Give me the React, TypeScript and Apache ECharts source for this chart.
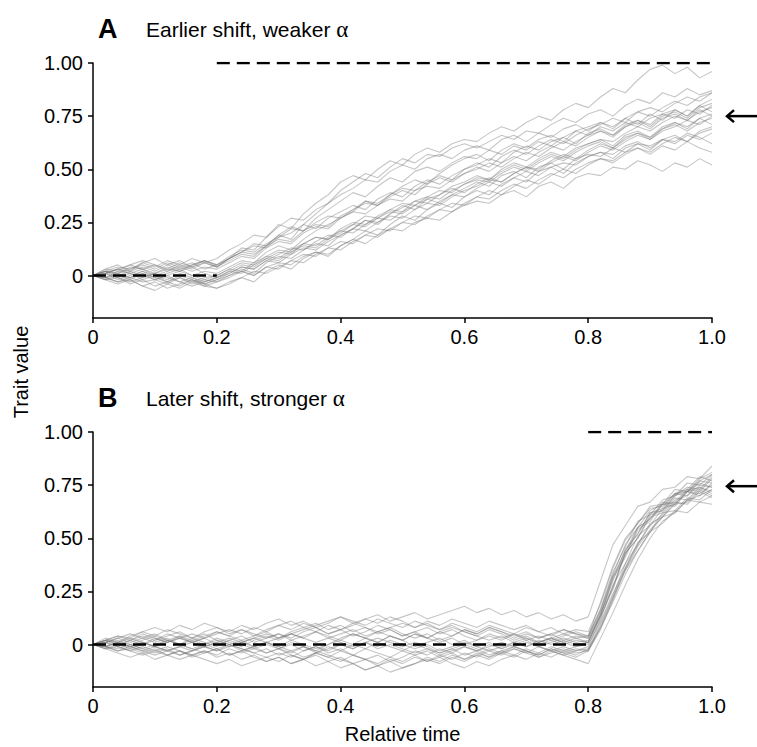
import React, { useEffect, useRef } from "react";
import * as echarts from "echarts";

// ---- data (values in hundredths of trait units, one point every 0.02 of relative time) ----
const TIME_STEP = 0.02;
const xTicks = [0, 0.2, 0.4, 0.6, 0.8, 1.0];
const yTicks = [0, 0.25, 0.5, 0.75, 1.0];
const arrowValues = [0.75, 0.745];
const optimumA = { before: [0, 0.2], after: [0.2, 1.0], theta0: 0, theta1: 1 };
const optimumB = { before: [0, 0.8], after: [0.8, 1.0], theta0: 0, theta1: 1 };
const panelTitles = ["Earlier shift, weaker ", "Later shift, stronger "];
const panelLetters = ["A", "B"];

const a01 = [0,2,1,4,3,5,2,4,6,3,5, 8,13,12,18,24,22,29,34,38,44, 47,45,50,54,52,57,60,58,62,64, 63,67,70,68,72,75,73,78,81,79, 84,88,86,92,97,99,95,98,93,96];
const a02 = [0,-1,2,1,3,0,2,5,3,6,4, 7,10,9,14,19,17,24,29,34,40, 44,48,46,51,55,53,57,56,60,62, 60,63,66,64,68,67,71,74,72,76, 78,75,80,83,81,86,84,88,85,87];
const a03 = [0,1,-2,0,2,-1,1,3,0,2,1, 4,7,6,11,14,12,17,21,24,27, 30,35,33,38,42,45,43,48,52,55, 57,54,59,62,60,64,66,63,68,70, 72,69,74,77,75,79,82,80,84,86];
const a04 = [0,-2,-1,-4,-2,-5,-3,-1,-4,-2,-3, 0,3,1,6,9,8,12,15,14,19, 22,26,24,29,33,31,36,38,42,44, 47,45,50,53,51,55,58,56,60,62, 64,61,66,68,65,70,72,69,74,76];
const a05 = [0,2,0,-2,1,-1,-3,0,-2,-4,-2, 0,2,0,4,6,5,9,11,10,14, 17,15,19,22,21,25,27,26,30,33, 35,34,38,40,37,42,44,41,46,48, 47,51,50,54,52,49,53,51,55,52];
const a06 = [0,3,5,2,6,4,7,5,8,6,4, 8,11,14,13,18,20,24,22,27,30, 33,31,36,39,37,42,45,43,47,50, 52,55,53,58,61,59,63,65,62,67, 69,66,71,73,70,75,77,74,79,81];
const a07 = [0,-1,-3,-2,-5,-7,-4,-6,-3,-5,-6, -4,-1,-3,2,5,3,8,11,9,14, 17,21,19,24,28,26,31,34,32,37, 40,38,43,46,44,49,51,48,53,56, 58,55,60,62,59,64,66,63,68,70];
const a08 = [0,2,4,3,6,8,5,7,4,6,8, 12,15,19,18,23,27,26,31,34,38, 41,45,44,49,52,50,55,57,55,59, 61,59,64,66,63,67,65,69,71,68, 72,70,74,71,76,73,78,75,80,77];
const a09 = [0,1,3,1,-1,1,3,2,4,1,-1, 2,5,4,8,11,10,15,18,17,22, 25,24,28,31,30,35,37,36,40,43, 45,44,48,51,49,53,56,54,58,61, 63,60,65,67,64,69,71,68,72,74];
const a10 = [0,-2,0,-1,1,-2,0,-3,-1,-4,-2, 1,4,3,7,10,13,12,16,19,18, 22,26,25,29,32,35,34,38,41,39, 43,46,44,48,51,50,54,57,55,59, 62,60,64,67,65,69,72,70,74,71];
const a11 = [0,1,-1,-3,-1,1,-1,-3,-5,-3,-1, 2,1,5,8,7,11,14,13,17,20, 24,23,27,30,29,33,36,34,38,41, 44,42,47,49,46,51,53,50,55,57, 56,60,58,62,61,64,62,66,64,67];
const a12 = [0,2,1,3,5,3,6,4,2,4,3, 6,9,8,13,16,15,20,23,22,27, 30,29,33,36,35,40,42,41,45,48, 50,53,51,55,58,56,60,63,61,65, 68,66,70,73,71,76,78,75,80,83];
const a13 = [0,-1,1,-1,-3,-2,-4,-1,-3,-1,0, 3,2,6,9,8,12,15,14,18,21, 20,24,27,26,30,33,31,35,38,37, 41,44,42,46,49,47,51,53,52,56, 58,57,61,63,60,64,63,67,65,62];
const a14 = [0,3,2,5,7,5,3,6,4,7,5, 9,12,11,15,18,22,21,25,28,27, 31,34,33,37,40,38,43,46,44,48, 51,49,53,56,54,58,61,59,63,66, 68,65,70,72,69,74,76,73,78,75];
const a15 = [0,-2,-4,-2,-5,-3,-6,-4,-2,-5,-3, -1,2,0,4,3,7,10,9,13,16, 15,19,22,21,25,28,27,31,34,33, 37,40,38,42,45,43,47,50,48,52, 55,53,57,60,58,62,65,63,67,69];
const a16 = [0,1,3,5,3,1,4,2,5,7,5, 8,11,10,14,17,16,21,24,23,28, 31,35,34,38,41,40,44,47,45,50, 53,51,56,59,57,61,64,62,66,69, 71,74,72,77,79,77,81,84,82,86];
const a17 = [0,-1,-3,-1,2,0,-2,1,-1,-3,-1, 1,4,3,7,6,10,13,12,16,19, 22,21,25,28,27,31,34,33,37,40, 42,45,44,48,51,49,53,56,54,58, 61,59,63,66,64,68,70,73,71,75];
const a18 = [0,2,-1,1,-2,0,-3,-5,-2,-4,-6, -3,-1,2,1,4,7,6,10,13,12, 16,19,18,22,25,24,28,31,30,34, 37,36,40,43,41,45,48,46,50,53, 55,54,58,60,57,61,59,63,60,58];
const a19 = [0,1,3,2,4,2,5,3,5,7,4, 8,11,15,14,19,23,21,27,31,35, 39,37,42,46,44,49,51,49,53,56, 55,59,57,61,59,63,61,65,68,66, 70,68,72,70,74,76,74,78,76,80];
const a20 = [0,-1,0,2,0,-2,0,2,0,-2,0, 3,6,5,9,12,11,15,18,17,21, 24,28,27,31,34,33,37,40,39,43, 46,45,49,52,50,54,57,55,59,62, 64,63,67,70,68,72,75,73,77,79];

const b01 = [0,2,4,3,6,4,7,5,3,6,8,6,9,7,10,12,9,11,8,10,13,11,9,12,10,8,11,9,7,10,8,6,9,7,5,8,6,4,7,5,3, 16,33,47,55,63,66,71,72,77,76];
const b02 = [0,-1,-3,-2,-4,-2,-5,-3,-6,-4,-2,-5,-3,-1,-4,-2,-5,-7,-4,-6,-8,-5,-7,-9,-6,-8,-5,-3,-6,-4,-7,-5,-2,-4,-1,-3,-5,-2,-4,-6,-3, 8,22,36,47,56,61,68,70,75,74];
const b03 = [0,1,-1,2,0,3,1,4,2,0,3,1,-1,2,4,2,5,3,6,4,2,5,3,1,4,2,-1,1,3,0,2,-1,1,-2,0,2,-1,1,3,1,2, 14,31,41,54,58,66,67,73,72,78];
const b04 = [0,-2,0,-1,1,-1,2,0,-2,-4,-2,-5,-3,-6,-8,-6,-9,-7,-10,-8,-11,-9,-12,-10,-7,-9,-6,-8,-5,-7,-4,-6,-3,-5,-2,-4,-6,-3,-5,-7,-9, 3,15,28,40,50,58,62,68,70,73];
const b05 = [0,3,1,4,6,8,6,9,7,10,8,5,7,4,6,3,5,7,9,11,13,10,12,14,11,13,15,12,14,16,18,15,17,14,16,13,15,12,14,11,13, 30,47,56,65,67,73,74,79,78,84];
const b06 = [0,-1,1,-1,-3,-1,-3,-1,1,-1,1,3,1,-1,1,-1,-3,-1,-4,-2,0,-2,1,-1,2,0,-2,0,-3,-1,1,-1,-3,-1,1,-1,1,3,1,-1,1, 13,26,43,50,60,62,69,68,74,72];
const b07 = [0,2,0,-2,0,2,5,3,1,3,5,7,5,8,6,9,11,8,10,7,9,6,8,5,7,4,6,8,5,7,4,2,5,3,5,2,4,2,4,6,4, 20,37,50,57,64,65,71,70,77,80];
const b08 = [0,-2,-4,-6,-4,-7,-5,-3,-5,-7,-9,-7,-10,-8,-6,-8,-5,-7,-4,-6,-3,-5,-2,-4,-6,-3,-5,-8,-6,-9,-11,-8,-10,-7,-5,-7,-4,-6,-3,-5,-2, 8,20,33,44,53,60,62,68,67,70];
const b09 = [0,1,3,1,3,5,2,4,1,3,0,2,4,1,3,5,3,6,8,5,7,9,12,10,13,11,8,10,7,9,6,4,7,5,2,4,1,3,5,3,4, 16,32,44,55,59,66,65,72,70,76];
const b10 = [0,-1,1,0,-2,-4,-2,-5,-3,-1,-3,0,-2,-4,-2,-5,-3,-6,-4,-1,-3,0,-2,1,-1,-3,0,-2,-4,-2,-5,-3,-6,-4,-2,-4,-1,-3,-5,-3,-2, 10,23,38,47,57,60,67,66,72,69];
const b11 = [0,2,1,3,1,-1,1,3,5,3,6,4,2,4,7,9,7,10,8,5,7,4,6,9,7,4,6,3,1,3,0,2,4,2,5,3,1,3,1,3,1, 14,30,45,52,62,63,70,74,73,79];
const b12 = [0,-2,-1,-3,-5,-3,-1,-3,-5,-3,-6,-4,-7,-5,-8,-6,-9,-7,-5,-8,-6,-9,-12,-10,-13,-11,-9,-6,-8,-5,-7,-4,-6,-3,-5,-2,-4,-1,-3,-1,0, 11,24,36,48,53,62,63,69,68,73];
const b13 = [0,1,3,5,3,1,3,0,2,4,6,4,7,5,3,5,2,4,6,3,5,7,4,6,8,10,8,11,9,12,10,8,11,9,7,9,6,8,5,7,6, 19,36,49,57,65,66,73,72,78,81];
const b14 = [0,-1,-3,-1,1,-1,-3,-5,-3,-1,-3,-1,1,3,1,3,5,3,1,3,1,-1,1,-2,0,-2,-4,-2,-5,-3,-1,-3,-1,1,-1,1,-1,-3,-1,-3,-1, 12,28,38,51,56,64,66,72,71,75];
const b15 = [0,2,0,2,4,2,4,6,3,5,2,0,2,-1,1,-2,0,-3,-1,-4,-2,-5,-7,-5,-8,-6,-3,-5,-2,-4,-1,-3,0,-2,1,-1,2,0,2,0,1, 15,27,44,52,62,64,71,73,79,77];
const b16 = [0,-1,-2,0,-2,0,2,0,3,1,-1,2,0,-2,-4,-2,-4,-1,-3,0,2,0,3,1,4,2,5,3,6,4,7,5,8,6,3,5,3,5,2,4,3, 14,32,42,55,59,67,66,72,74,71];
const b17 = [0,1,-1,-3,-1,-3,-5,-7,-5,-3,-5,-2,-4,-2,0,-2,1,-1,-3,-5,-7,-9,-7,-10,-8,-11,-9,-7,-9,-6,-8,-5,-7,-4,-6,-3,-5,-2,-4,-2,-3, 7,21,35,46,54,60,66,67,73,70];
const b18 = [0,2,4,2,5,3,1,3,1,-1,1,-1,1,3,5,3,6,8,6,9,7,10,8,6,8,5,3,5,2,4,7,5,8,6,4,6,3,5,7,5,4, 17,34,46,58,61,68,70,76,75,80];
const b19 = [0,-1,1,-1,-3,-5,-3,-1,-3,0,-2,0,-2,-4,-6,-4,-6,-3,-1,-3,0,-2,1,3,1,-1,1,-1,-4,-2,0,-2,-5,-3,-1,-3,-6,-4,-2,-4,-3, 9,22,35,44,53,57,63,62,67,66];
const b20 = [0,1,2,0,2,4,2,0,-2,0,2,0,-3,-1,1,-1,2,0,-2,0,3,5,3,6,4,2,5,3,6,8,6,4,2,4,1,3,0,2,0,2,1, 13,27,43,50,61,63,70,72,76,74];

const panelALines = [a01,a02,a03,a04,a05,a06,a07,a08,a09,a10,a11,a12,a13,a14,a15,a16,a17,a18,a19,a20];
const panelBLines = [b01,b02,b03,b04,b05,b06,b07,b08,b09,b10,b11,b12,b13,b14,b15,b16,b17,b18,b19,b20];

// ---- styling ----
const FONT = "'Liberation Sans', Arial, Helvetica, sans-serif";
const SERIF = "'Liberation Serif', 'DejaVu Serif', serif";
const W = 757;
const H = 747;
const GRID_LEFT = 93;
const GRID_RIGHT = 45;
const GRID_H = 255;
const GRID_TOPS = [63, 432];

const toPoints = (vals: number[]) =>
  vals.map((v, i) => [Math.round(i * TIME_STEP * 100) / 100, v / 100]);

function buildOption() {
  const series: any[] = [];
  const addPanel = (lines: number[][], idx: number, opt: any) => {
    lines.forEach((vals) => {
      series.push({
        type: "line",
        xAxisIndex: idx,
        yAxisIndex: idx,
        data: toPoints(vals),
        symbol: "none",
        silent: true,
        z: 2,
        lineStyle: { color: "rgba(120,120,120,0.42)", width: 1.1 },
      });
    });
    const dash = {
      type: "line",
      xAxisIndex: idx,
      yAxisIndex: idx,
      symbol: "none",
      silent: true,
      z: 5,
      lineStyle: { color: "#000", width: 2.5, type: [13, 7] },
    };
    series.push({ ...dash, data: [[opt.before[0], opt.theta0], [opt.before[1], opt.theta0]] });
    series.push({ ...dash, data: [[opt.after[0], opt.theta1], [opt.after[1], opt.theta1]] });
  };
  addPanel(panelALines, 0, optimumA);
  addPanel(panelBLines, 1, optimumB);

  const xAxis = [0, 1].map((i) => ({
    gridIndex: i,
    type: "value",
    min: 0,
    max: 1,
    interval: 0.2,
    axisLine: { show: true, onZero: false, lineStyle: { color: "#000", width: 1.5 } },
    axisTick: { show: true, length: 5, customValues: xTicks, lineStyle: { color: "#000", width: 1.5 } },
    axisLabel: {
      color: "#000",
      fontSize: 20,
      fontFamily: FONT,
      margin: 9,
      customValues: xTicks,
      formatter: (v: number) => (v === 0 ? "0" : v.toFixed(1)),
    },
    splitLine: { show: false },
  }));
  const yAxis = [0, 1].map((i) => ({
    gridIndex: i,
    type: "value",
    min: -0.2,
    max: 1,
    axisLine: { show: true, onZero: false, lineStyle: { color: "#000", width: 1.5 } },
    axisTick: { show: true, length: 5, customValues: yTicks, lineStyle: { color: "#000", width: 1.5 } },
    axisLabel: {
      color: "#000",
      fontSize: 20,
      fontFamily: FONT,
      margin: 10,
      customValues: yTicks,
      formatter: (v: number) => (Math.abs(v) < 1e-9 ? "0" : v.toFixed(2)),
    },
    splitLine: { show: false },
  }));

  return {
    animation: false,
    backgroundColor: "#fff",
    grid: GRID_TOPS.map((top) => ({ left: GRID_LEFT, right: GRID_RIGHT, top, height: GRID_H })),
    xAxis,
    yAxis,
    series,
  };
}

export default function App() {
  const ref = useRef<HTMLDivElement>(null);
  useEffect(() => {
    document.body.style.margin = "0";
    if (!ref.current) return;
    const chart = echarts.init(ref.current, null, { renderer: "svg", width: W, height: H });
    chart.setOption(buildOption());

    const graphics: any[] = [];
    GRID_TOPS.forEach((top, i) => {
      const cy = top - 34;
      graphics.push({
        type: "text",
        x: 98,
        y: cy,
        style: { text: panelLetters[i], fontSize: 27, fontWeight: "bold", fontFamily: FONT, fill: "#000", verticalAlign: "middle" },
      });
      graphics.push({
        type: "text",
        x: 146,
        y: cy,
        style: {
          text: panelTitles[i] + "{g|α}",
          fontSize: 21,
          fontFamily: FONT,
          fill: "#000",
          verticalAlign: "middle",
          rich: { g: { fontSize: 23, fontFamily: SERIF, fill: "#000", verticalAlign: "middle" } },
        },
      });
      const p = chart.convertToPixel({ xAxisIndex: i, yAxisIndex: i } as any, [1, arrowValues[i]]) as number[];
      const tip = p[0] + 14;
      const y = p[1];
      graphics.push({
        type: "line",
        shape: { x1: tip + 1, y1: y, x2: W, y2: y },
        style: { stroke: "#000", lineWidth: 2.5 },
      });
      graphics.push({
        type: "polyline",
        shape: { points: [[tip + 8, y - 6], [tip + 1, y], [tip + 8, y + 6]] },
        style: { stroke: "#000", lineWidth: 2.5, fill: "none" },
      });
    });
    graphics.push({
      type: "text",
      x: 21,
      y: 372,
      rotation: Math.PI / 2,
      style: { text: "Trait value", fontSize: 20, fontFamily: FONT, fill: "#000", align: "center", verticalAlign: "middle" },
    });
    graphics.push({
      type: "text",
      x: GRID_LEFT + (W - GRID_LEFT - GRID_RIGHT) / 2,
      y: 734,
      style: { text: "Relative time", fontSize: 20, fontFamily: FONT, fill: "#000", align: "center", verticalAlign: "middle" },
    });
    chart.setOption({ graphic: graphics });

    return () => chart.dispose();
  }, []);
  return <div ref={ref} style={{ width: W, height: H }} />;
}
